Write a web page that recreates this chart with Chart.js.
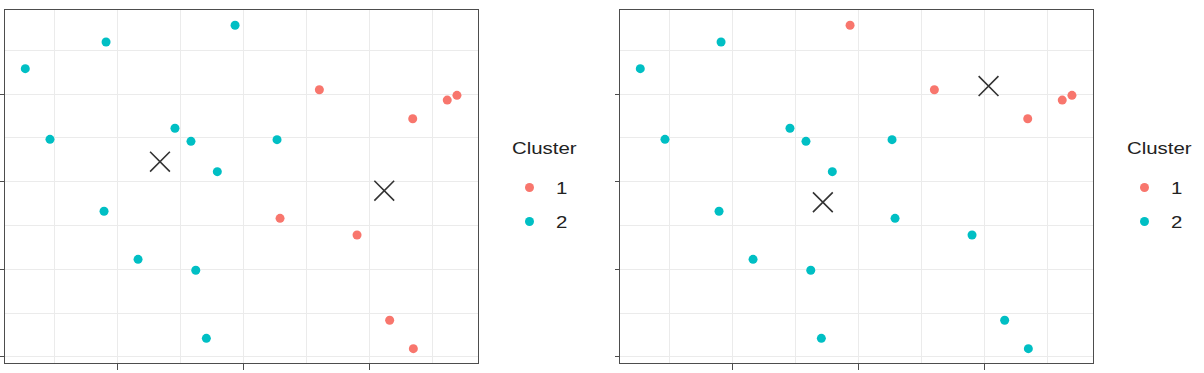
<!DOCTYPE html>
<html>
<head>
<meta charset="utf-8">
<script src="https://cdn.jsdelivr.net/npm/chart.js@4"></script>
<style>
  body { margin: 0; background: #fff; width: 1204px; height: 373px; overflow: hidden; position: relative; }
  .panel { position: absolute; top: 0; width: 490px; height: 373px; }
  .txt { position: absolute; font-family: "Liberation Sans", Arial, sans-serif; font-size: 17px; line-height: 17px;
         color: #222; white-space: nowrap; transform: scaleX(1.2); transform-origin: left center; }
  .dot { position: absolute; width: 9px; height: 9px; border-radius: 50%; }
</style>
</head>
<body>
<script>
// same 20 observations in both panels, only the cluster labels differ
const pointX = [0.272, 0.913, 1.937, 0.468, 1.460, 1.587, 1.796, 2.270, 0.897, 1.167,
                1.625, 1.709, 2.606, 3.347, 3.621, 3.698, 2.294, 2.905, 3.164, 3.352];
const pointY = [3.289, 3.593, 3.784, 2.483, 2.609, 2.460, 2.114, 2.479, 1.662, 1.114,
                0.989, 0.213, 3.049, 2.718, 2.931, 2.985, 1.582, 1.392, 0.419, 0.095];

const clusterLeft  = [2, 2, 2, 2, 2, 2, 2, 2, 2, 2, 2, 2, 1, 1, 1, 1, 1, 1, 1, 1];
const clusterRight = [2, 2, 1, 2, 2, 2, 2, 2, 2, 2, 2, 2, 1, 1, 1, 1, 2, 2, 2, 2];

// centroids, cluster 1 then cluster 2
const centersLeftX  = [3.121, 1.341];
const centersLeftY  = [1.897, 2.228];
const centersRightX = [3.036, 1.721];
const centersRightY = [3.091, 1.765];

const legendLabels = ["1", "2"];
const clusterColors = ["#F8766D", "#00BFC4"];

const panelBorder = {
  id: "panelBorder",
  afterDraw(chart) {
    const a = chart.chartArea;
    const ctx = chart.ctx;
    ctx.save();
    ctx.strokeStyle = "#4d4d4d";
    ctx.lineWidth = 1;
    ctx.strokeRect(a.left + 0.5, a.top + 0.5, a.right - a.left - 1, a.bottom - a.top - 1);
    ctx.restore();
  }
};

function isMajor(ctx) {
  const v = ctx.tick.value;
  return Math.abs(v - Math.round(v)) < 1e-6;
}

function makePanel(left, clusters, cx, cy) {
  let box = document.createElement("div");
  box.className = "panel";
  box.style.left = left + "px";
  let canvas = document.createElement("canvas");
  canvas.width = 490;
  canvas.height = 373;
  box.appendChild(canvas);
  document.body.appendChild(box);

  let datasets = [{
    label: "centers",
    data: cx.map((x, i) => ({ x: x, y: cy[i] })),
    pointStyle: "crossRot",
    pointRadius: 14,
    borderColor: "#333333",
    borderWidth: 1.6,
    backgroundColor: "#333333"
  }];
  legendLabels.forEach((lab, k) => {
    let pts = [];
    pointX.forEach((x, i) => {
      if (String(clusters[i]) === lab) pts.push({ x: x, y: pointY[i] });
    });
    datasets.push({
      label: lab,
      data: pts,
      pointRadius: 4.5,
      borderWidth: 0,
      backgroundColor: clusterColors[k]
    });
  });

  new Chart(canvas, {
    type: "scatter",
    data: { datasets: datasets },
    options: {
      responsive: false,
      animation: false,
      layout: { autoPadding: false, padding: { left: 0, top: 9, right: 11, bottom: 3 } },
      plugins: { legend: { display: false }, tooltip: { enabled: false } },
      scales: {
        x: {
          type: "linear", min: 0.103, max: 3.873,
          ticks: { display: false, stepSize: 0.5, includeBounds: false },
          grid: { color: "#ebebeb", lineWidth: 1, tickLength: 6, tickWidth: 1,
                  tickColor: (ctx) => isMajor(ctx) ? "#4d4d4d" : "rgba(0,0,0,0)" },
          border: { display: false }
        },
        y: {
          type: "linear", min: -0.08, max: 3.97,
          ticks: { display: false, stepSize: 0.5, includeBounds: false },
          grid: { color: "#ebebeb", lineWidth: 1, tickLength: 4, tickWidth: 1,
                  tickColor: (ctx) => isMajor(ctx) ? "#4d4d4d" : "rgba(0,0,0,0)" },
          border: { display: false }
        }
      }
    },
    plugins: [panelBorder]
  });

  // legend, as in the ggplot guide
  let title = document.createElement("div");
  title.className = "txt";
  title.textContent = "Cluster";
  title.style.left = (left + 511.5) + "px";
  title.style.top = "139.5px";
  document.body.appendChild(title);
  const rowY = [187, 221];
  legendLabels.forEach((lab, k) => {
    let dot = document.createElement("div");
    dot.className = "dot";
    dot.style.background = clusterColors[k];
    dot.style.left = (left + 529 - 4.5) + "px";
    dot.style.top = (rowY[k] - 4.5) + "px";
    document.body.appendChild(dot);
    let t = document.createElement("div");
    t.className = "txt";
    t.textContent = lab;
    t.style.left = (left + 555.5) + "px";
    t.style.top = (rowY[k] - 7) + "px";
    document.body.appendChild(t);
  });
}

makePanel(0, clusterLeft, centersLeftX, centersLeftY);
makePanel(615, clusterRight, centersRightX, centersRightY);
</script>
</body>
</html>
